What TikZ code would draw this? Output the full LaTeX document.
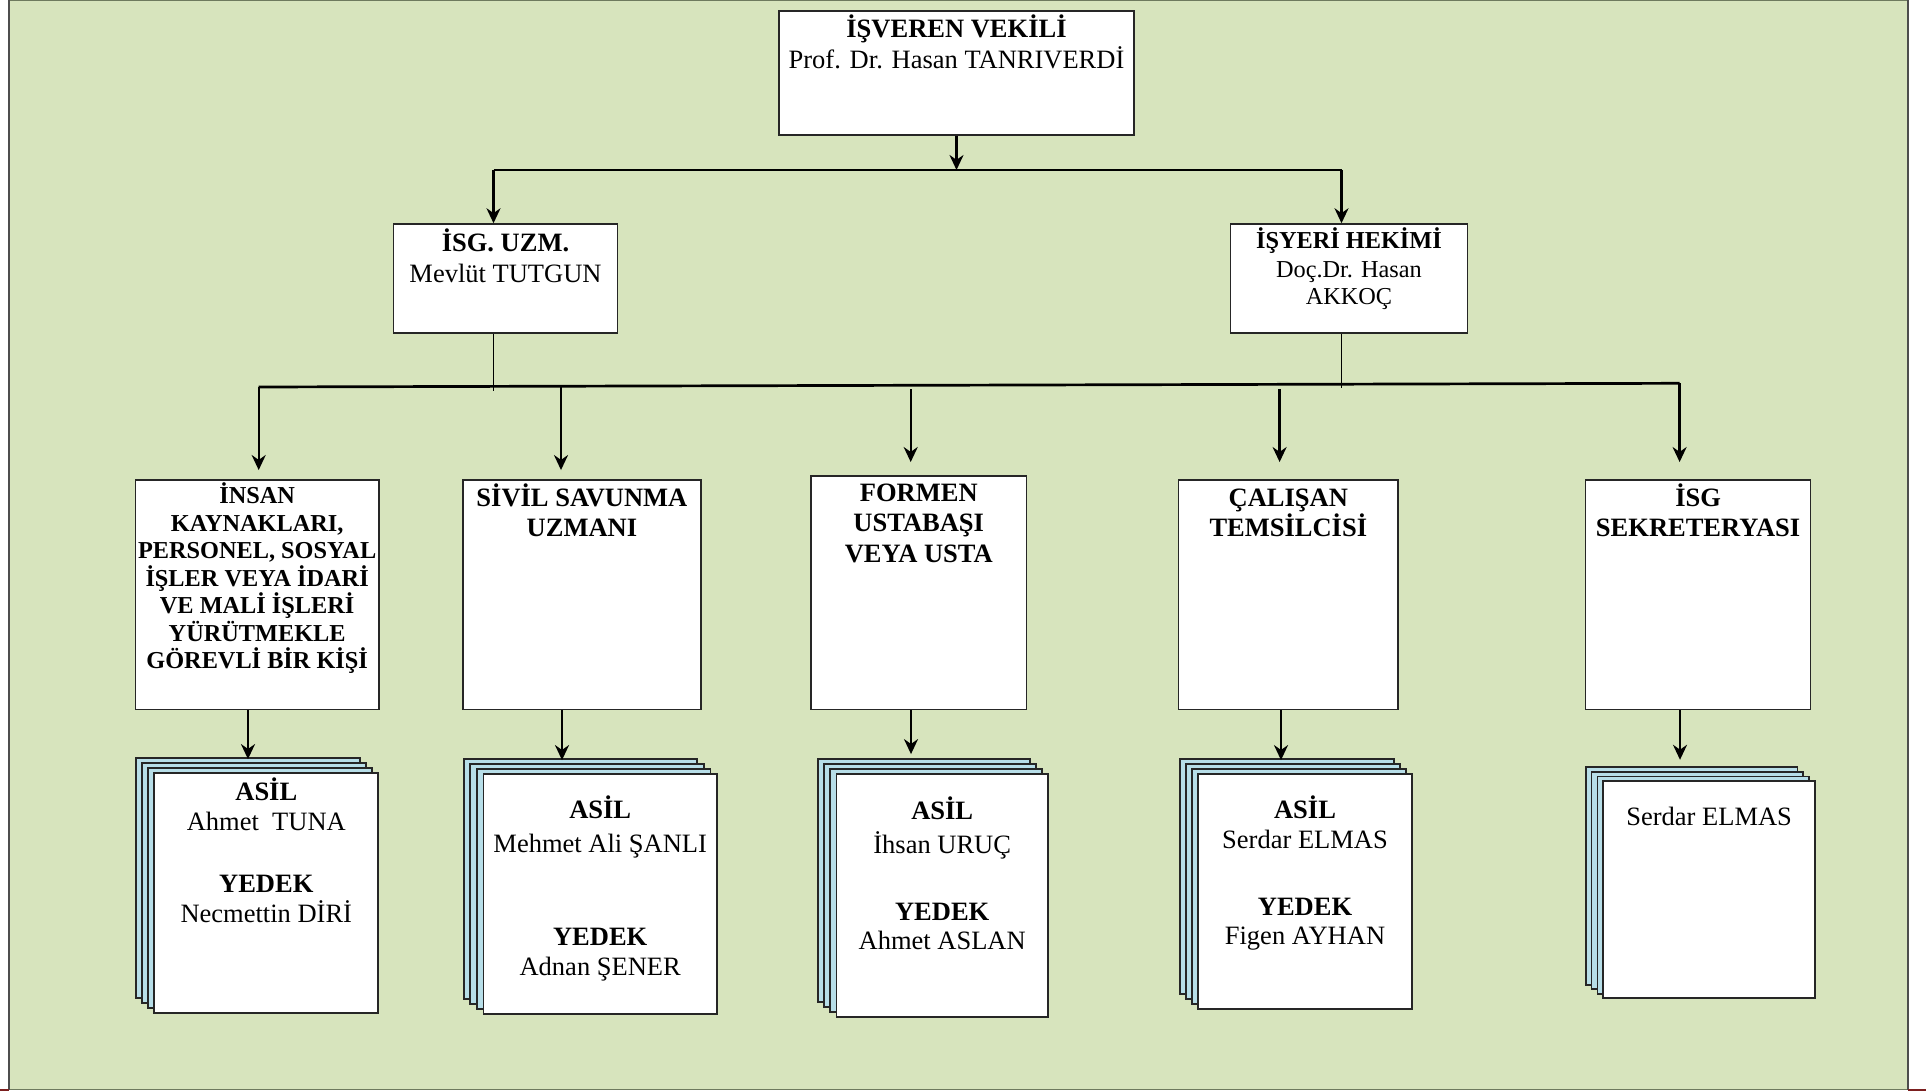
\documentclass[tikz,border=0pt]{standalone}
\usepackage{fontspec}
\setmainfont{Liberation Serif}
\usetikzlibrary{arrows.meta,fit}
\definecolor{bg}{HTML}{D7E4BD}
\definecolor{sheet}{HTML}{B7DEE8}
\definecolor{frameg}{HTML}{4D4D4D}
\definecolor{framet}{HTML}{6E7A5E}
\definecolor{marker}{HTML}{7B1F1F}
\newcommand\drawstack[7]{%
  \foreach \i in {0,1,2} {%
    \pgfmathsetmacro\sx{#2+(#4-#2)*\i/3}%
    \pgfmathsetmacro\sy{#3+(#5-#3)*\i/3}%
    \node[back, fit={(\sx,\sy) (\sx+#6,\sy+#7)}] (#1b\i) {};
  }%
  \node[box, line width=0.9pt, fit={(#4,#5) (#4+#6,#5+#7)}] (#1) {};
}
\begin{document}
\begin{tikzpicture}[x=0.5pt,y=-0.5pt,
  box/.style={draw=black!85, line width=0.75pt, fill=white, inner sep=0pt},
  back/.style={draw=black!85, line width=0.9pt, fill=sheet, inner sep=0pt},
  arr/.style={-{Stealth[length=7.5pt,width=7pt]}, line width=1.2pt},
  thinln/.style={line width=0.55pt},
  bus/.style={line width=1.35pt},
  topbus/.style={line width=1pt},
  tb/.style={font=\fontsize{13.25}{15.4}\bfseries\selectfont, anchor=base, inner sep=0pt},
  tr/.style={font=\fontsize{13.25}{15.4}\selectfont, anchor=base, inner sep=0pt},
  sb/.style={font=\fontsize{12.15}{14}\bfseries\selectfont, anchor=base, inner sep=0pt},
  sr/.style={font=\fontsize{12.15}{14}\selectfont, anchor=base, inner sep=0pt},
]
\useasboundingbox (0,0) rectangle (1926,1091);
\fill[white] (0,0) rectangle (1926,1091);
\fill[bg] (9,0) rectangle (1908,1090);
\draw[framet, line width=0.7pt] (9,0.7) -- (1908,0.7);
\draw[framet, line width=0.7pt] (9,1089.5) -- (1908,1089.5);
\draw[frameg, line width=1pt] (9,0) -- (9,1090);
\draw[frameg, line width=1pt] (1908,0) -- (1908,1090);
\fill[marker] (0,1089) rectangle (9,1091);
\fill[marker] (1908,1089) rectangle (1926,1091);

% boxes
\node[box, fit={(779,11) (1134,135)}] (top) {};
\node[box, fit={(393.5,224) (617.5,333)}] (isg) {};
\node[box, fit={(1230.5,224) (1467.5,333)}] (hek) {};
\node[box, fit={(135.5,480) (378.8,709.7)}] (b1) {};
\node[box, fit={(462.8,480) (701,709.7)}] (b2) {};
\node[box, fit={(811,476) (1026.5,709.7)}] (b3) {};
\node[box, fit={(1178.6,480) (1398,709.7)}] (b4) {};
\node[box, fit={(1585.7,480) (1810.5,709.7)}] (b5) {};

% stacks
\drawstack{s1}{135.7}{758}{154.3}{773.3}{224}{240}
\drawstack{s2}{463.7}{759}{483.4}{773.7}{233.6}{240}
\drawstack{s3}{818}{759}{836.4}{773.7}{211.6}{243}
\drawstack{s4}{1179.6}{759}{1198}{773.7}{214}{235}
\drawstack{s5}{1585.7}{767.3}{1603.3}{781}{211.7}{217.3}

% connectors top level
\coordinate (jm) at (956.5,170);
\coordinate (jl) at (493.5,170);
\coordinate (jr) at (1341.5,170);
\draw[arr] (top.south) -- (jm);
\draw[topbus] (jl) -- (jr);
\draw[arr] (jl) -- (jl |- isg.north);
\draw[arr] (jr) -- (jr |- hek.north);

% thin drops
\coordinate (dl) at (493.5,391);
\coordinate (dr) at (1341.5,388);
\draw[thinln] (dl |- isg.south) -- (dl);
\draw[thinln] (dr |- hek.south) -- (dr);

% main bus
\coordinate (busL) at (258.7,387);
\coordinate (busR) at (1679.6,383.3);
\draw[bus] (busL) -- (busR);
\coordinate (c2) at (561,386.2);
\coordinate (c3) at (910.7,389);
\coordinate (c4) at (1279.6,389);
\draw[arr, shorten >=4.6pt] (busL) -- (busL |- b1.north);
\draw[arr, shorten >=4.6pt] (c2) -- (c2 |- b2.north);
\draw[arr, shorten >=6.6pt] (c3) -- (c3 |- b3.north);
\draw[arr, shorten >=8.6pt] (c4) -- (c4 |- b4.north);
\draw[arr, shorten >=8.6pt] (busR) -- (busR |- b5.north);

% to stacks
\coordinate (a1) at (248,0);
\coordinate (a2) at (562,0);
\coordinate (a3) at (911,0);
\coordinate (a4) at (1281,0);
\coordinate (a5) at (1680,0);
\draw[arr, shorten >=-1pt] (a1 |- b1.south) -- (a1 |- s1b0.north);
\draw[arr, shorten >=-1pt] (a2 |- b2.south) -- (a2 |- s2b0.north);
\draw[arr, shorten >=2pt] (a3 |- b3.south) -- (a3 |- s3b0.north);
\draw[arr, shorten >=-1pt] (a4 |- b4.south) -- (a4 |- s4b0.north);
\draw[arr, shorten >=3.3pt] (a5 |- b5.south) -- (a5 |- s5b0.north);

% texts
\node[tb] (top1) at (top.center |- 0,37.5) {İŞVEREN VEKİLİ};
\node[tr] (top2) at (top.center |- 0,68.3) {Prof. Dr. Hasan TANRIVERDİ};

\node[tb] (isg1) at (isg.center |- 0,251) {İSG. UZM.};
\node[tr] (isg2) at (isg.center |- 0,282) {Mevlüt TUTGUN};

\node[sb] (hek1) at (hek.center |- 0,249) {İŞYERİ HEKİMİ};
\node[sr] (hek2) at (hek.center |- 0,277.5) {Doç.Dr. Hasan};
\node[sr] (hek3) at (hek.center |- 0,304.5) {AKKOÇ};

\node[sb] (b1t1) at (b1.center |- 0,503.7) {İNSAN};
\node[sb] (b1t2) at (b1.center |- 0,531.2) {KAYNAKLARI,};
\node[sb] (b1t3) at (b1.center |- 0,558.7) {PERSONEL, SOSYAL};
\node[sb] (b1t4) at (b1.center |- 0,586.2) {İŞLER VEYA İDARİ};
\node[sb] (b1t5) at (b1.center |- 0,613.7) {VE MALİ İŞLERİ};
\node[sb] (b1t6) at (b1.center |- 0,641.2) {YÜRÜTMEKLE};
\node[sb] (b1t7) at (b1.center |- 0,668.7) {GÖREVLİ BİR KİŞİ};

\node[tb] (b2t1) at (b2.center |- 0,506) {SİVİL SAVUNMA};
\node[tb] (b2t2) at (b2.center |- 0,536.5) {UZMANI};

\node[tb] (b3t1) at (b3.center |- 0,501) {FORMEN};
\node[tb] (b3t2) at (b3.center |- 0,531.6) {USTABAŞI};
\node[tb] (b3t3) at (b3.center |- 0,562.3) {VEYA USTA};

\node[tb] (b4t1) at (b4.center |- 0,506) {ÇALIŞAN};
\node[tb] (b4t2) at (b4.center |- 0,536.5) {TEMSİLCİSİ};

\node[tb] (b5t1) at (b5.center |- 0,506) {İSG};
\node[tb] (b5t2) at (b5.center |- 0,536.5) {SEKRETERYASI};

\node[tb] (s1t1) at (s1.center |- 0,800) {ASİL};
\node[tr] (s1t2) at (s1.center |- 0,830.4) {Ahmet\ \ TUNA};
\node[tb] (s1t3) at (s1.center |- 0,892) {YEDEK};
\node[tr] (s1t4) at (s1.center |- 0,922.8) {Necmettin DİRİ};

\node[tb] (s2t1) at (s2.center |- 0,818) {ASİL};
\node[tr] (s2t2) at (s2.center |- 0,852.6) {Mehmet Ali ŞANLI};
\node[tb] (s2t3) at (s2.center |- 0,945) {YEDEK};
\node[tr] (s2t4) at (s2.center |- 0,975.6) {Adnan ŞENER};

\node[tb] (s3t1) at (s3.center |- 0,819.4) {ASİL};
\node[tr] (s3t2) at (s3.center |- 0,853.8) {İhsan URUÇ};
\node[tb] (s3t3) at (s3.center |- 0,920.2) {YEDEK};
\node[tr] (s3t4) at (s3.center |- 0,949.8) {Ahmet ASLAN};

\node[tb] (s4t1) at (s4.center |- 0,818) {ASİL};
\node[tr] (s4t2) at (s4.center |- 0,848.8) {Serdar ELMAS};
\node[tb] (s4t3) at (s4.center |- 0,915.3) {YEDEK};
\node[tr] (s4t4) at (s4.center |- 0,944.8) {Figen AYHAN};

\node[tr] (s5t1) at (s5.center |- 0,825.5) {Serdar ELMAS};
\end{tikzpicture}
\end{document}
